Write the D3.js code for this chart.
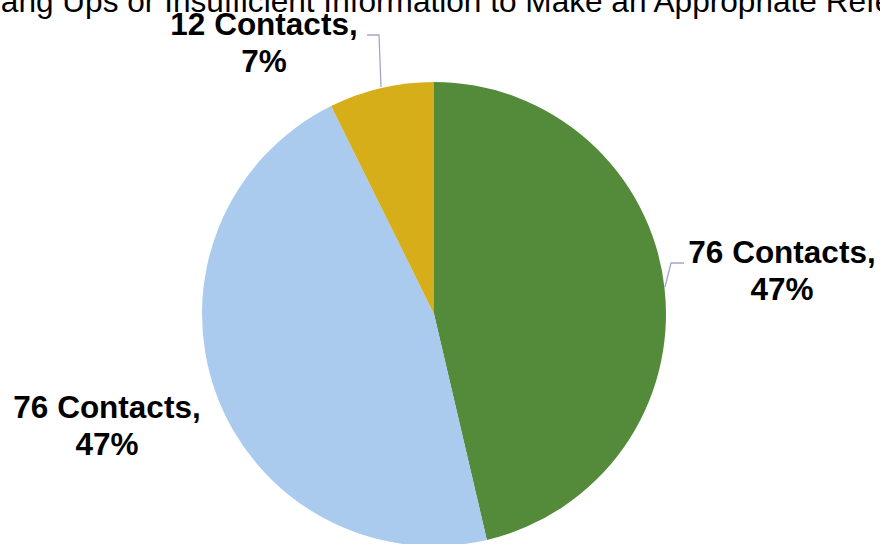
<!DOCTYPE html>
<html>
<head>
<meta charset="utf-8">
<script src="https://cdn.jsdelivr.net/npm/d3@7"></script>
<style>
  body { margin: 0; background: #fff; }
  text { font-family: Arial, "Liberation Sans", sans-serif; }
</style>
</head>
<body>
<svg id="chart"></svg>
<script>
let titleText = "Hang Ups or Insufficient Information to Make an Appropriate Referral";
let categories = ["Green", "Blue", "Gold"];
let values = [76, 76, 12];
let labels = ["76 Contacts,", "76 Contacts,", "12 Contacts,"];
let percents = ["47%", "47%", "7%"];
let colors = ["#538b3b", "#aacbee", "#d6ae1a"];

let width = 880, height = 544;
let cx = 434, cy = 314, r = 232;

let svg = d3.select("#chart")
    .attr("width", width)
    .attr("height", height);

svg.append("text")
    .attr("x", -22)
    .attr("y", 12)
    .attr("text-anchor", "start")
    .style("font-size", "31.6px")
    .style("fill", "#000")
    .text(titleText);

let pie = d3.pie().sort(null).value(d => d);
let arcs = pie(values);
let arc = d3.arc().innerRadius(0).outerRadius(r);

let g = svg.append("g").attr("transform", "translate(" + cx + "," + cy + ")");

g.selectAll("path")
    .data(arcs)
    .enter()
    .append("path")
    .attr("d", arc)
    .style("fill", (d, i) => colors[i]);

// label positions (center of the text block) and leader lines
let labelPos = [[782, 263], [107, 418], [264, 35]];
let leaders = [
    [[684, 263], [671, 263], [665, 287]],
    null,
    [[367, 35], [379, 35], [381, 87]]
];

leaders.forEach(function (pts) {
    if (!pts) return;
    svg.append("path")
        .attr("d", d3.line()(pts))
        .style("fill", "none")
        .style("stroke", "#a5a5d2")
        .style("stroke-width", 1.3);
});

arcs.forEach(function (d, i) {
    let t = svg.append("text")
        .attr("text-anchor", "middle")
        .style("font-size", "31.5px")
        .style("font-weight", "bold")
        .style("fill", "#000");
    t.append("tspan")
        .attr("x", labelPos[i][0])
        .attr("y", labelPos[i][1])
        .text(labels[i]);
    t.append("tspan")
        .attr("x", labelPos[i][0])
        .attr("y", labelPos[i][1] + 36.5)
        .text(percents[i]);
});
</script>
</body>
</html>
